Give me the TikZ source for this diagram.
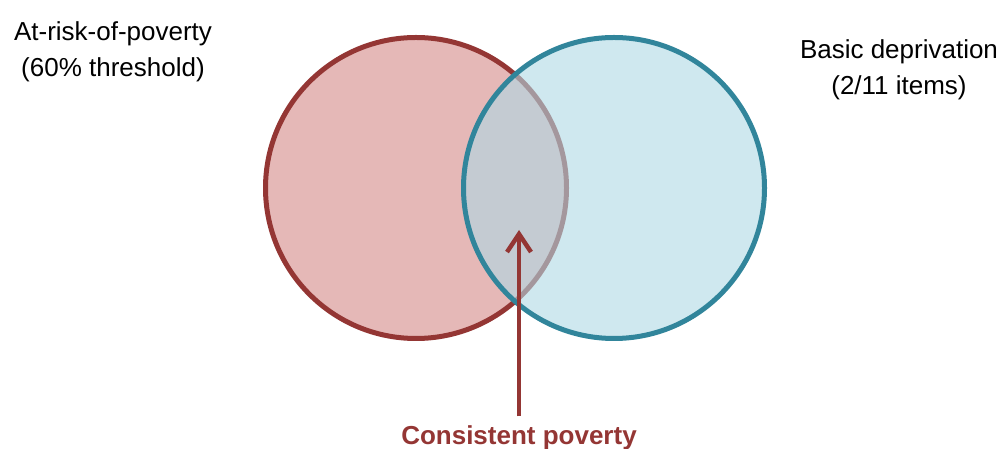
\documentclass[tikz,border=0pt]{standalone}
\usepackage{fontspec}
\setmainfont{Liberation Sans}
\usepackage{tikz}
\usetikzlibrary{arrows.meta}

\definecolor{povred}{RGB}{148,54,52}
\definecolor{povfill}{RGB}{229,184,183}
\definecolor{depteal}{RGB}{49,133,155}
\definecolor{depfill}{RGB}{175,217,228}

\begin{document}
\begin{tikzpicture}[
    x=1pt, y=1pt,
    >={Straight Barb[length=18pt, width=24pt]},
    font=\fontsize{26}{36}\selectfont,
    set/.style={
		circle,
		inner sep=0pt,
		line width=5pt,
		minimum size=301pt
	},
	povset/.style={
		set,
		draw=povred,
		fill=povfill
	},
	depset/.style={
		set,
		draw=depteal,
		fill=depfill,
		fill opacity=0.6
	},
	setlabel/.style={
		align=center,
		text=black
	}
  ]
  \useasboundingbox (0,0) rectangle (1003,449);

    % the two sets, the second one over the first
  \node [povset] (pov) at (416,261) {};
  \node [depset] (dep) at (614,261) {};

  \node [setlabel] (povlbl) at (113,397) {At-risk-of-poverty\\(60\% threshold)};
  \node [setlabel] (deplbl) at (899,379) {Basic deprivation\\(2/11 items)};

  \coordinate (core) at (519,219);
  \node [text=povred, font=\fontsize{26}{36}\selectfont\bfseries] (cons) at (519,11) {Consistent poverty};

  \draw [->, povred, line width=4.5pt, shorten <=6pt] (cons.north) -- (core);

\end{tikzpicture}
\end{document}
